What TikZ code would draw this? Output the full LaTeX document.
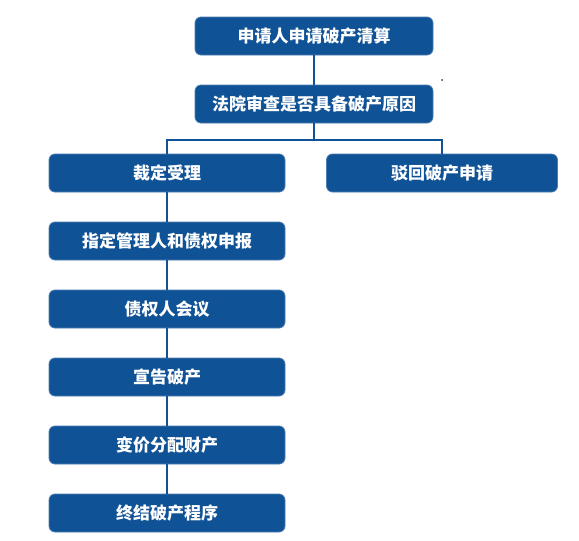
\documentclass[tikz,border=0pt]{standalone}
\usepackage{fontspec}
\usepackage{tikz}
\newfontfamily\cjk{Noto Sans CJK SC}
\definecolor{boxblue}{RGB}{16,82,150}

\begin{document}
\begin{tikzpicture}[x=1pt,y=1pt]
			\tikzstyle{stepbox} = [rectangle, rounded corners=6pt, minimum width=236pt, minimum height=38pt, text centered, fill=boxblue, draw=boxblue!75!white, line width=0.8pt, text=white, font=\cjk\bfseries\fontsize{17}{17}\selectfont]
			\tikzstyle{link} = [draw=boxblue, line width=2pt]

			\useasboundingbox (0,0) rectangle (579,-541);

			\node (apply) at (314,-36) [stepbox, minimum width=238pt] {申请人申请破产清算};
			\node (review) at (314,-104) [stepbox, minimum width=238pt] {法院审查是否具备破产原因};
			\node (accept) at (167,-173) [stepbox] {裁定受理};
			\node (reject) at (442,-173) [stepbox, minimum width=231pt] {驳回破产申请};
			\node (appoint) at (167,-241) [stepbox] {指定管理人和债权申报};
			\node (meeting) at (167,-309) [stepbox] {债权人会议};
			\node (declare) at (167,-377) [stepbox] {宣告破产};
			\node (sell) at (167,-445) [stepbox] {变价分配财产};
			\node (close) at (167,-513) [stepbox] {终结破产程序};
			\coordinate (split) at (314,-140);

			\draw [link] (apply) -- (review);
			\draw [link] (review) -- (split);
			\draw [link] (accept) |- (split) -| (reject);
			\draw [link] (accept) -- (appoint);
			\draw [link] (appoint) -- (meeting);
			\draw [link] (meeting) -- (declare);
			\draw [link] (declare) -- (sell);
			\draw [link] (sell) -- (close);

			\fill [black!80] (442,-80) circle (1pt);

		\end{tikzpicture}
\end{document}
